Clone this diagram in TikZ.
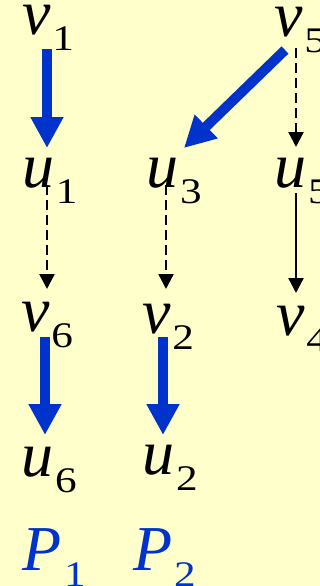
\documentclass[tikz,border=0pt]{standalone}
\usepackage{fontspec}
\setmainfont{Liberation Serif}
\usetikzlibrary{arrows.meta}
\pgfdeclarelayer{bg}
\pgfdeclarelayer{arrowlayer}
\pgfsetlayers{bg,arrowlayer,main}
\definecolor{bgyellow}{HTML}{FFFFCC}
\definecolor{pathblue}{HTML}{0033CC}
\newcommand{\lab}[2]{{\fontsize{64}{64}\selectfont\itshape #1}\kern2pt\raisebox{-16pt}{\scalebox{1.2}[1]{\fontsize{36}{36}\selectfont #2}}}
\tikzset{
  lbl/.style={inner sep=0pt, outer sep=0pt, anchor=base west, text=black},
  plbl/.style={lbl, text=pathblue},
  bluearrow/.style={draw=pathblue, line width=10pt, -{Triangle[width=31pt,length=31pt]}},
  dasharrow/.style={draw=black, line width=2.3pt, dash pattern=on 10pt off 5pt, -{Triangle[width=15pt,length=15pt]}},
  solidarrow/.style={draw=black, line width=2.3pt, -{Triangle[width=15pt,length=15pt]}}
}
\begin{document}
\begin{tikzpicture}[x=1pt,y=-1pt]
\begin{pgfonlayer}{bg}
\fill[bgyellow] (0,0) rectangle (320,586);
\end{pgfonlayer}
\useasboundingbox (0,0) rectangle (320,586);
% column 1
\node[lbl] (v1) at (22,35) {\lab{v}{1}};
\node[lbl] (u1) at (22,187) {\lab{u}{1}};
\node[lbl] (v6) at (21,331) {\lab{v}{6}};
\node[lbl] (u6) at (21,476) {\lab{u}{6}};
\node[plbl] (P1) at (23,570) {\lab{P}{1}};
% column 2
\node[lbl] (u3) at (146,187) {\lab{u}{3}};
\node[lbl] (v2) at (142,333) {\lab{v}{2}};
\node[lbl] (u2) at (142,474) {\lab{u}{2}};
\node[plbl] (P2) at (133,570) {\lab{P}{2}};
% column 3
\node[lbl] (v5) at (274,37) {\lab{v}{5}};
\node[lbl] (u5) at (274,187) {\lab{u}{5}};
\node[lbl] (v4) at (276,335) {\lab{v}{4}};
\begin{pgfonlayer}{arrowlayer}
\draw[bluearrow] ([shift={(25,14)}]v1.base west) -- ([shift={(25,-39)}]u1.base west);
\draw[bluearrow] ([shift={(11,13)}]v5.base west) -- ([shift={(38,-39)}]u3.base west);
\draw[bluearrow] ([shift={(24,6)}]v6.base west) -- ([shift={(24,-41)}]u6.base west);
\draw[bluearrow] ([shift={(21,4)}]v2.base west) -- ([shift={(21,-39)}]u2.base west);
\draw[dasharrow] ([shift={(22,11)}]v5.base west) -- ([shift={(22,-40)}]u5.base west);
\draw[dasharrow] ([shift={(25,-2)}]u1.base west) -- ([shift={(26,-42)}]v6.base west);
\draw[dasharrow] ([shift={(20,-2)}]u3.base west) -- ([shift={(24,-44)}]v2.base west);
\draw[solidarrow] ([shift={(22,6)}]u5.base west) -- ([shift={(20,-42)}]v4.base west);
\end{pgfonlayer}
\end{tikzpicture}
\end{document}
